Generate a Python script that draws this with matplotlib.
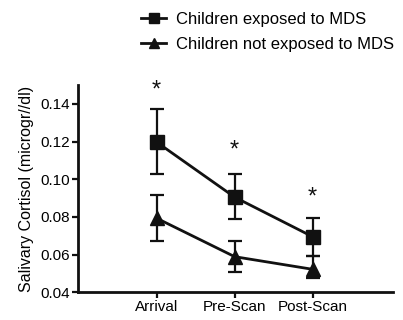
import matplotlib
matplotlib.use('Agg')
import matplotlib.pyplot as plt
from matplotlib.lines import Line2D

plt.rcParams['font.family'] = ['Liberation Sans', 'DejaVu Sans']

categories = ['Arrival', 'Pre-Scan', 'Post-Scan']
mds_mean = [0.1197, 0.0905, 0.0695]
mds_low = [0.1027, 0.0788, 0.0593]
mds_high = [0.1372, 0.1027, 0.0796]
non_mds_mean = [0.0793, 0.0589, 0.0522]
non_mds_low = [0.0672, 0.0509, 0.0474]
non_mds_high = [0.0917, 0.0672, 0.0593]
star_y = [0.1470, 0.1150, 0.0905]

fig = plt.figure(figsize=(4.03, 3.2), dpi=100)
ax = fig.add_axes([0.1935, 0.0866, 0.7815, 0.6475])

x = list(range(len(categories)))
ink = '#111111'
for mean, low, high, mk in [(mds_mean, mds_low, mds_high, 's'),
                            (non_mds_mean, non_mds_low, non_mds_high, '^')]:
    err = [[m - l for m, l in zip(mean, low)], [h - m for h, m in zip(high, mean)]]
    ax.errorbar(x, mean, yerr=err, color=ink, marker=mk, markersize=9.5,
                linewidth=2, capsize=5, capthick=1.6, elinewidth=1.6)
for i, yy in zip(x, star_y):
    ax.text(i, yy, '*', ha='center', va='center', fontsize=17, color=ink)

ax.set_xlim(-1.01, 3.03)
ax.set_ylim(0.04, 0.150)
ax.set_yticks([0.04, 0.06, 0.08, 0.10, 0.12, 0.14])
ax.set_yticklabels(['0.04', '0.06', '0.08', '0.10', '0.12', '0.14'])
ax.set_xticks(x)
ax.set_xticklabels(categories)
ax.tick_params(labelsize=11, width=1.6, length=4.5, color=ink, pad=1)
for s in ['top', 'right']:
    ax.spines[s].set_visible(False)
for s in ['left', 'bottom']:
    ax.spines[s].set_linewidth(2)
    ax.spines[s].set_color(ink)
ax.set_ylabel('Salivary Cortisol (microgr//dl)', fontsize=11.5, labelpad=5)

handles = [Line2D([0], [0], color=ink, marker='s', markersize=7, linewidth=2),
           Line2D([0], [0], color=ink, marker='^', markersize=7, linewidth=2)]
fig.legend(handles, ['Children exposed to MDS', 'Children not exposed to MDS'],
           loc='upper left', bbox_to_anchor=(0.322, 1.0), frameon=False,
           fontsize=12, handlelength=1.5, labelspacing=0.6, handletextpad=0.6,
           borderaxespad=0.3)

fig.savefig('out.png', dpi=100)
